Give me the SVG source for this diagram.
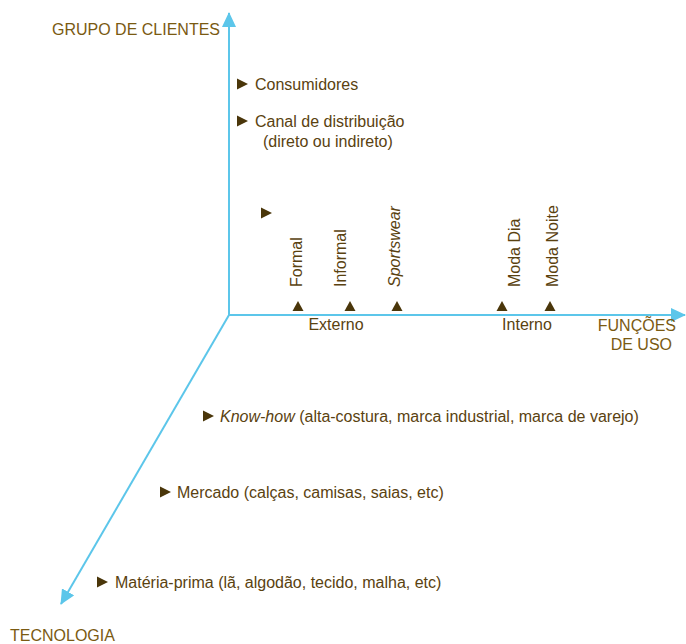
<svg xmlns="http://www.w3.org/2000/svg" width="686" height="644" viewBox="0 0 686 644">
  <style>
    text { font-family: "Liberation Sans", Arial, sans-serif; font-size: 16px; fill: #5a4210; }
    .title { fill: #7a5a12; }
    .axis { stroke: #5cc6ea; stroke-width: 2; fill: none; }
    .bullet { fill: #4a360a; }
    .it { font-style: italic; }
  </style>
  <defs>
    <marker id="head" viewBox="0 0 15 14" refX="14" refY="7" markerWidth="15" markerHeight="14" markerUnits="userSpaceOnUse" orient="auto">
      <path d="M0,0 L15,7 L0,14 Z" fill="#5cc6ea"/>
    </marker>
    <path id="tri-r" d="M0,-5.5 L11,0 L0,5.5 Z"/>
    <path id="tri-u" d="M-5.5,5 L0,-5 L5.5,5 Z"/>
  </defs>
  <rect width="686" height="644" fill="#ffffff"/>

  <!-- axes -->
  <g id="connectors">
    <line class="axis" x1="229" y1="315" x2="229" y2="13" marker-end="url(#head)"/>
    <line class="axis" x1="229" y1="315" x2="685" y2="315" marker-end="url(#head)"/>
    <line class="axis" x1="229" y1="315" x2="61" y2="604" marker-end="url(#head)"/>
  </g>

  <!-- axis titles -->
  <g id="axis-clientes"><text class="title" x="52" y="35">GRUPO DE CLIENTES</text></g>
  <g id="axis-funcoes">
    <text class="title" x="676" y="331" text-anchor="end">FUNÇÕES</text>
    <text class="title" x="672" y="350" text-anchor="end">DE USO</text>
  </g>
  <g id="axis-tecnologia"><text class="title" x="10" y="641">TECNOLOGIA</text></g>

  <!-- client group items -->
  <g id="consumidores">
    <use href="#tri-r" class="bullet" x="237" y="84"/>
    <text x="255" y="90">Consumidores</text>
  </g>
  <g id="canal">
    <use href="#tri-r" class="bullet" x="237" y="121"/>
    <text x="255" y="127">Canal de distribuição</text>
    <text x="263" y="147">(direto ou indireto)</text>
  </g>
  <g id="vazio">
    <use href="#tri-r" class="bullet" x="261" y="213"/>
  </g>

  <!-- usage functions -->
  <g id="formal">
    <text transform="translate(302,287) rotate(-90)">Formal</text>
    <use href="#tri-u" class="bullet" x="298" y="306"/>
  </g>
  <g id="informal">
    <text transform="translate(346,287) rotate(-90)">Informal</text>
    <use href="#tri-u" class="bullet" x="350" y="306"/>
  </g>
  <g id="sportswear">
    <text class="it" transform="translate(400,287) rotate(-90)">Sportswear</text>
    <use href="#tri-u" class="bullet" x="397" y="306"/>
  </g>
  <g id="moda-dia">
    <text transform="translate(520,287) rotate(-90)">Moda Dia</text>
    <use href="#tri-u" class="bullet" x="502" y="306"/>
  </g>
  <g id="moda-noite">
    <text transform="translate(558,287) rotate(-90)">Moda Noite</text>
    <use href="#tri-u" class="bullet" x="550" y="306"/>
  </g>
  <g id="externo"><text x="336" y="330" text-anchor="middle">Externo</text></g>
  <g id="interno"><text x="527" y="330" text-anchor="middle">Interno</text></g>

  <!-- technology items -->
  <g id="know-how">
    <use href="#tri-r" class="bullet" x="203" y="416"/>
    <text x="220" y="422"><tspan class="it">Know-how</tspan> (alta-costura, marca industrial, marca de varejo)</text>
  </g>
  <g id="mercado">
    <use href="#tri-r" class="bullet" x="160" y="492"/>
    <text x="177" y="498">Mercado (calças, camisas, saias, etc)</text>
  </g>
  <g id="materia-prima">
    <use href="#tri-r" class="bullet" x="97" y="582"/>
    <text x="115" y="588">Matéria-prima (lã, algodão, tecido, malha, etc)</text>
  </g>
</svg>
